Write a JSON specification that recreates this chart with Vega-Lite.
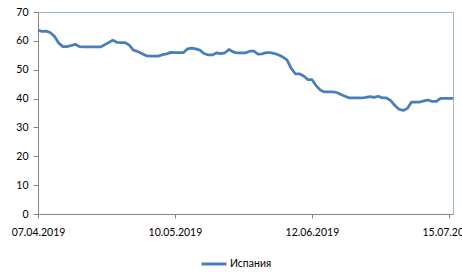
{
  "$schema": "https://vega.github.io/schema/vega-lite/v6.json",
  "width": 415,
  "height": 202,
  "autosize": "none",
  "padding": {"left": 38, "top": 12, "right": 9, "bottom": 58},
  "background": "white",
  "config": {
    "view": {"stroke": "#9BB7D9", "strokeWidth": 1},
    "font": "Lato",
    "axis": {"labelFont": "Lato", "labelFontSize": 10.5, "labelColor": "#000000", "grid": false, "domainColor": "#868686", "tickColor": "#868686"}
  },
  "data": {
    "values": [
      {"date": "2019-04-07", "value": 63.6},
      {"date": "2019-04-08", "value": 63.3},
      {"date": "2019-04-09", "value": 63.4},
      {"date": "2019-04-10", "value": 62.8},
      {"date": "2019-04-11", "value": 61.5},
      {"date": "2019-04-12", "value": 59.2},
      {"date": "2019-04-13", "value": 58.0},
      {"date": "2019-04-14", "value": 58.0},
      {"date": "2019-04-15", "value": 58.4},
      {"date": "2019-04-16", "value": 58.8},
      {"date": "2019-04-17", "value": 58.0},
      {"date": "2019-04-18", "value": 57.9},
      {"date": "2019-04-19", "value": 57.9},
      {"date": "2019-04-20", "value": 57.9},
      {"date": "2019-04-21", "value": 57.9},
      {"date": "2019-04-22", "value": 57.9},
      {"date": "2019-04-23", "value": 58.6},
      {"date": "2019-04-24", "value": 59.4},
      {"date": "2019-04-25", "value": 60.2},
      {"date": "2019-04-26", "value": 59.5},
      {"date": "2019-04-27", "value": 59.4},
      {"date": "2019-04-28", "value": 59.4},
      {"date": "2019-04-29", "value": 58.5},
      {"date": "2019-04-30", "value": 56.8},
      {"date": "2019-05-01", "value": 56.3},
      {"date": "2019-05-02", "value": 55.6},
      {"date": "2019-05-03", "value": 54.9},
      {"date": "2019-05-04", "value": 54.7},
      {"date": "2019-05-05", "value": 54.7},
      {"date": "2019-05-06", "value": 54.7},
      {"date": "2019-05-07", "value": 55.2},
      {"date": "2019-05-08", "value": 55.5},
      {"date": "2019-05-09", "value": 56.0},
      {"date": "2019-05-10", "value": 55.9},
      {"date": "2019-05-11", "value": 55.9},
      {"date": "2019-05-12", "value": 55.9},
      {"date": "2019-05-13", "value": 57.2},
      {"date": "2019-05-14", "value": 57.5},
      {"date": "2019-05-15", "value": 57.2},
      {"date": "2019-05-16", "value": 56.8},
      {"date": "2019-05-17", "value": 55.6},
      {"date": "2019-05-18", "value": 55.1},
      {"date": "2019-05-19", "value": 55.1},
      {"date": "2019-05-20", "value": 55.8},
      {"date": "2019-05-21", "value": 55.6},
      {"date": "2019-05-22", "value": 55.8},
      {"date": "2019-05-23", "value": 57.0},
      {"date": "2019-05-24", "value": 56.2},
      {"date": "2019-05-25", "value": 55.8},
      {"date": "2019-05-26", "value": 55.8},
      {"date": "2019-05-27", "value": 55.8},
      {"date": "2019-05-28", "value": 56.4},
      {"date": "2019-05-29", "value": 56.4},
      {"date": "2019-05-30", "value": 55.4},
      {"date": "2019-05-31", "value": 55.5},
      {"date": "2019-06-01", "value": 55.9},
      {"date": "2019-06-02", "value": 55.9},
      {"date": "2019-06-03", "value": 55.6},
      {"date": "2019-06-04", "value": 55.1},
      {"date": "2019-06-05", "value": 54.4},
      {"date": "2019-06-06", "value": 53.4},
      {"date": "2019-06-07", "value": 50.5},
      {"date": "2019-06-08", "value": 48.6},
      {"date": "2019-06-09", "value": 48.6},
      {"date": "2019-06-10", "value": 47.8},
      {"date": "2019-06-11", "value": 46.6},
      {"date": "2019-06-12", "value": 46.6},
      {"date": "2019-06-13", "value": 44.5},
      {"date": "2019-06-14", "value": 43.0},
      {"date": "2019-06-15", "value": 42.3},
      {"date": "2019-06-16", "value": 42.3},
      {"date": "2019-06-17", "value": 42.3},
      {"date": "2019-06-18", "value": 42.1},
      {"date": "2019-06-19", "value": 41.4},
      {"date": "2019-06-20", "value": 40.8},
      {"date": "2019-06-21", "value": 40.2},
      {"date": "2019-06-22", "value": 40.2},
      {"date": "2019-06-23", "value": 40.2},
      {"date": "2019-06-24", "value": 40.2},
      {"date": "2019-06-25", "value": 40.4},
      {"date": "2019-06-26", "value": 40.7},
      {"date": "2019-06-27", "value": 40.4},
      {"date": "2019-06-28", "value": 40.8},
      {"date": "2019-06-29", "value": 40.2},
      {"date": "2019-06-30", "value": 40.2},
      {"date": "2019-07-01", "value": 39.3},
      {"date": "2019-07-02", "value": 37.6},
      {"date": "2019-07-03", "value": 36.3},
      {"date": "2019-07-04", "value": 35.9},
      {"date": "2019-07-05", "value": 36.6},
      {"date": "2019-07-06", "value": 38.8},
      {"date": "2019-07-07", "value": 38.8},
      {"date": "2019-07-08", "value": 38.8},
      {"date": "2019-07-09", "value": 39.2},
      {"date": "2019-07-10", "value": 39.5},
      {"date": "2019-07-11", "value": 39.0},
      {"date": "2019-07-12", "value": 39.0},
      {"date": "2019-07-13", "value": 40.1},
      {"date": "2019-07-14", "value": 40.1},
      {"date": "2019-07-15", "value": 40.1},
      {"date": "2019-07-16", "value": 40.1}
    ]
  },
  "mark": {"type": "line", "strokeWidth": 2.75, "strokeJoin": "round", "clip": false},
  "encoding": {
    "x": {
      "field": "date",
      "type": "temporal",
      "scale": {
        "type": "utc",
        "domain": [{"year": 2019, "month": 4, "date": 7, "utc": true}, {"year": 2019, "month": 7, "date": 16, "utc": true}]
      },
      "axis": {
        "title": null,
        "values": [
          {"year": 2019, "month": 4, "date": 7, "utc": true},
          {"year": 2019, "month": 5, "date": 10, "utc": true},
          {"year": 2019, "month": 6, "date": 12, "utc": true},
          {"year": 2019, "month": 7, "date": 15, "utc": true}
        ],
        "labelExpr": "utcFormat(datum.value, '%d.%m.%Y')",
        "tickSize": 4,
        "labelPadding": 9,
        "labelFlush": false,
        "labelOverlap": false,
        "labelBound": false
      }
    },
    "y": {
      "field": "value",
      "type": "quantitative",
      "scale": {"domain": [0, 70], "nice": false, "zero": true},
      "axis": {
        "title": null,
        "values": [0, 10, 20, 30, 40, 50, 60, 70],
        "tickSize": 5,
        "labelPadding": 5
      }
    },
    "color": {
      "datum": "Испания",
      "type": "nominal",
      "scale": {"range": ["#4A7EBB"]},
      "legend": {
        "title": null,
        "orient": "none",
        "legendX": 162,
        "legendY": 238,
        "symbolType": "stroke",
        "symbolSize": 625,
        "symbolStrokeWidth": 3,
        "labelFont": "Lato",
        "labelFontSize": 10.5,
        "labelColor": "#000000",
        "labelOffset": 2
      }
    }
  }
}
